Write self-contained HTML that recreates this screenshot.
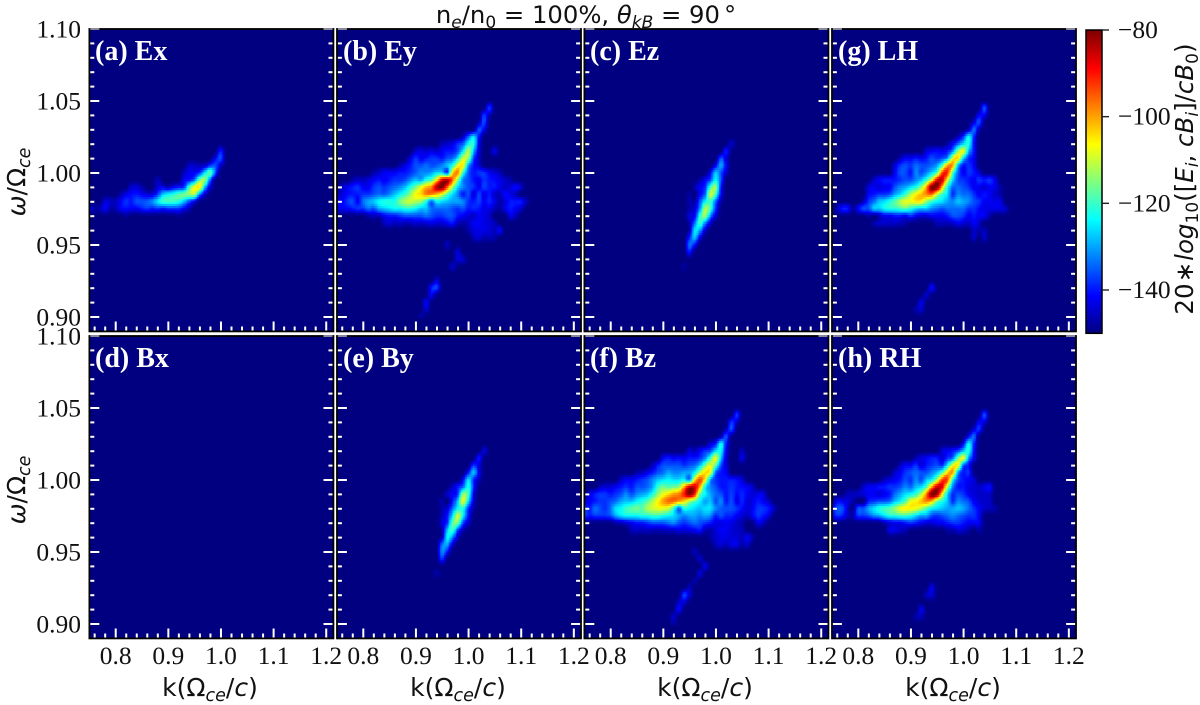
<!DOCTYPE html>
<html lang="en">
<head>
<meta charset="utf-8">
<title>Wave power spectra heatmaps</title>
<style>
html,body{margin:0;padding:0;background:#fff;width:1200px;height:705px;overflow:hidden}
svg{display:block}
.dj{font-family:"DejaVu Sans",sans-serif;font-size:25px;fill:#111}
.tm{font-family:"Liberation Serif",serif;font-size:25.5px;fill:#111}
.pl{font-family:"Liberation Serif",serif;font-size:28px;font-weight:bold;fill:#fff}
.it{font-style:italic}
</style>
</head>
<body>
<svg id="figure" xmlns="http://www.w3.org/2000/svg" width="1200" height="705" viewBox="0 0 1200 705">
  <g id="heat-layer"></g>
  <g id="axes-layer"></g>
  <g id="colorbar"></g>

  <text class="dj" x="586" y="23" text-anchor="middle" style="font-size:24.3px">n<tspan class="it" font-size="17" dy="5">e</tspan><tspan dy="-5">/n</tspan><tspan font-size="17" dy="5">0</tspan><tspan dy="-5"> = 100%, </tspan><tspan class="it">θ</tspan><tspan class="it" font-size="17" dy="5">kB</tspan><tspan dy="-5"> = 90</tspan><tspan dx="4">°</tspan></text>

  <text class="pl" x="95" y="60">(a) Ex</text>
  <text class="pl" x="343" y="60">(b) Ey</text>
  <text class="pl" x="590" y="60">(c) Ez</text>
  <text class="pl" x="838" y="60">(g) LH</text>
  <text class="pl" x="95" y="367">(d) Bx</text>
  <text class="pl" x="343" y="367">(e) By</text>
  <text class="pl" x="590" y="367">(f) Bz</text>
  <text class="pl" x="838" y="367">(h) RH</text>

  <text class="dj" transform="translate(25,182) rotate(-90)" text-anchor="middle"><tspan class="it">ω</tspan>/Ω<tspan class="it" font-size="17.5" dy="5">ce</tspan></text>
  <text class="dj" transform="translate(25,490) rotate(-90)" text-anchor="middle"><tspan class="it">ω</tspan>/Ω<tspan class="it" font-size="17.5" dy="5">ce</tspan></text>

  <text class="dj" x="210" y="696" text-anchor="middle">k(Ω<tspan class="it" font-size="17.5" dy="5">ce</tspan><tspan dy="-5">/</tspan><tspan class="it">c</tspan>)</text>
  <text class="dj" x="458" y="696" text-anchor="middle">k(Ω<tspan class="it" font-size="17.5" dy="5">ce</tspan><tspan dy="-5">/</tspan><tspan class="it">c</tspan>)</text>
  <text class="dj" x="705" y="696" text-anchor="middle">k(Ω<tspan class="it" font-size="17.5" dy="5">ce</tspan><tspan dy="-5">/</tspan><tspan class="it">c</tspan>)</text>
  <text class="dj" x="953" y="696" text-anchor="middle">k(Ω<tspan class="it" font-size="17.5" dy="5">ce</tspan><tspan dy="-5">/</tspan><tspan class="it">c</tspan>)</text>

  <text class="dj" transform="translate(1193,179) rotate(-90)" text-anchor="middle" style="font-size:24.5px">20<tspan dx="1">∗</tspan><tspan class="it" dx="1">log</tspan><tspan font-size="17" dy="5">10</tspan><tspan dy="-5">([</tspan><tspan class="it">E</tspan><tspan class="it" font-size="17" dy="5">i</tspan><tspan dy="-5">, </tspan><tspan class="it">cB</tspan><tspan class="it" font-size="17" dy="5">i</tspan><tspan dy="-5">]/</tspan><tspan class="it">cB</tspan><tspan font-size="17" dy="5">0</tspan><tspan dy="-5">)</tspan></text>
</svg>

<script>
// ---- Axis tick values and labels ----
const kMajorTicks = [0.8, 0.9, 1.0, 1.1, 1.2];
const kMajorLabels = ["0.8", "0.9", "1.0", "1.1", "1.2"];
const kMinorTicks = [0.76, 0.78, 0.82, 0.84, 0.86, 0.88, 0.92, 0.94, 0.96, 0.98, 1.02, 1.04, 1.06, 1.08, 1.12, 1.14, 1.16, 1.18];
const omegaMajorTicks = [0.90, 0.95, 1.00, 1.05, 1.10];
const omegaMajorLabels = ["0.90", "0.95", "1.00", "1.05", "1.10"];
const omegaMinorTicks = [0.91, 0.92, 0.93, 0.94, 0.96, 0.97, 0.98, 0.99, 1.01, 1.02, 1.03, 1.04, 1.06, 1.07, 1.08, 1.09];
const colorbarTicks = [-80, -100, -120, -140];
const colorbarLabels = ["\u221280", "\u2212100", "\u2212120", "\u2212140"];

// ---- Heatmap grid definition ----
// Cells are spaced 0.01 in k from 0.75 and 0.005 in omega downward from 1.05.
// Each row: first entry is the column index of its first cell, the rest are power in dB above the -150 floor.
const kFirst = 0.75, kStep = 0.01, omegaFirst = 1.05, omegaStep = -0.005, gridColumns = 38, gridRows = 31;
const colorMin = -150, colorMax = -80;

const powerEx = [
[],[],[],[],[],[],[],
[25,10],
[24,8,14],
[19,5,5,4,5,12,14,5],
[18,4,8,8,12,24,32,14],
[13,4,0,0,0,0,8,10,16,34,36,16],
[8,5,6,3,0,0,6,7,4,8,10,12,30,42,44,22,6],
[6,3,7,9,10,8,6,6,12,22,26,28,32,34,36,38,18,6],
[3,6,5,4,8,12,10,14,14,15,18,24,30,30,30,28,22,14,8],
[0,8,3,3,8,3,3,8,9,8,8,10,12,10,12,10,12,12,12,8,4],
[7,2,0,0,0,0,0,0,0,0,0,2]
];

const powerEy = [
[],
[29,12],
[28,12,4],
[27,3,14],
[27,14,8],
[24,5,15,24,10],
[20,4,5,7,12,15,27,28,8],
[15,5,7,5,7,5,8,10,10,14,25,38,22,6,0,0,7],
[14,6,12,8,10,12,12,10,14,16,25,40,36,14,5],
[12,3,7,10,14,14,16,14,15,18,22,28,42,44,20,10,6],
[7,3,5,8,8,8,10,10,12,15,18,18,20,24,24,14,45,52,30,15,10,12,12,8,6,4],
[3,3,5,4,6,8,10,8,10,12,12,14,18,22,20,28,32,45,62,66,54,36,18,14,10,8,12,10,9,7,5,3],
[1,5,8,10,12,8,8,12,14,12,14,16,18,22,28,34,42,48,52,66,70,55,38,24,18,14,12,8,13,10,10,7,5,6,9,5],
[0,4,6,9,10,10,12,12,14,16,15,18,22,26,30,36,44,46,52,52,48,42,32,24,18,10,14,6,13,7,10,5,4,9,7,4],
[0,10,8,12,14,8,16,20,22,26,28,28,28,34,38,40,38,36,28,16,26,24,22,20,20,18,12,10,13,8,11,7,3,6,10,10,10,4],
[0,8,8,8,10,12,12,16,14,20,22,24,26,26,28,28,26,22,22,16,16,16,16,14,12,14,10,11,10,7,7,4,2,7,10,8,5],
[6,3,4,4,8,10,10,12,14,14,14,14,16,14,12,12,14,14,10,8,6,5,8,7,5,0,0,0,7,4],
[9,4,6,4,5,4,4,6,5,6,7,6,6,8,10,4,3,4,8,8,7,6,4],
[25,3,6,7,7,6,4,8],
[26,4,6,3,4,3],
[21,4],
[23,6],
[23,6,5],
[22,5],
[],
[19,6],
[18,10,13],
[18,8],
[17,8],
[17,5],
[16,3]
];

const powerEz = [
[],[],[],[],[],[],
[28,5],
[27,10],
[26,14,6],
[25,8,20,8],
[24,8,22,14,5],
[22,3,8,14,26,14],
[21,3,8,12,30,36,10],
[20,2,0,8,16,40,30,8],
[20,3,3,14,26,30,16,3],
[20,3,6,18,38,30,12],
[20,6,8,28,36,18,6],
[20,3,16,30,18,6],
[20,3,24,20,6],
[20,10,22,8],
[20,16,10],
[20,10],
[],
[19,2]
];

const powerLH = [
[],
[29,14],
[28,8,8],
[27,6,14],
[26,4,16,4],
[24,4,12,26,12],
[22,3,8,16,24,28,10],
[18,6,8,9,8,10,18,36,42,22,10],
[13,4,8,8,10,8,10,14,12,14,20,42,46,24,12,8],
[12,6,12,14,12,16,14,14,16,20,32,50,50,22,10,12,8],
[12,8,14,14,10,18,14,18,24,32,56,58,32,16,8,12,10,6],
[8,5,8,10,10,10,12,14,14,18,22,30,42,62,64,42,24,14,12,10,8,12,10,12,7],
[7,6,8,6,8,8,14,18,20,24,28,36,50,70,70,48,28,16,16,14,12,8,8,6,8,7,3],
[7,8,10,12,12,14,20,24,30,38,44,48,52,54,40,30,24,12,18,16,16,12,8,10,8,5,3],
[6,4,12,16,22,24,28,32,38,42,42,45,44,36,30,26,24,20,18,22,20,18,14,12,8,8,7,7],
[1,4,10,10,2,8,14,14,22,22,26,28,28,30,32,28,24,22,22,18,16,14,16,16,16,16,12,12,9,7,7,7,7,5],
[7,3,0,4,8,8,10,10,8,12,8,6,6,8,8,8,10,14,14,12,8,10,8,8,3],
[8,3,5,5,5,5,4,3,0,0,0,0,0,4,4,4,5,8,6,5,8,5],
[27,5,3,4],
[27,5,0,5],
[],[],[],[],[],[],
[19,9],
[18,5],
[17,7],
[16,3,5]
];

const powerBx = [];

const powerBy = [
[],[],[],[],[],[],
[28,6],
[27,10],
[26,12,6],
[25,10,22,8],
[24,8,24,12,4],
[22,5,10,16,28,12],
[21,5,8,12,36,30,8],
[20,3,0,10,22,42,24,6],
[20,3,6,16,26,28,12,3],
[20,4,10,24,40,26,10],
[20,6,12,32,34,14,5],
[20,3,22,30,14,4],
[20,4,26,18,5],
[20,16,20,6],
[20,18,10],
[20,12],
[],
[19,3]
];

const powerBz = [
[],
[29,12],
[28,12,5],
[27,4,14],
[26,4,14],
[24,6,10,26,10],
[20,6,4,8,12,14,24,26,8,0,0,4],
[15,8,10,8,9,8,10,10,12,18,30,42,22,6,0,0,7],
[13,4,10,14,14,14,14,12,14,16,22,34,42,32,14,6],
[10,3,4,7,10,14,16,20,18,18,20,20,26,38,46,42,16,10,8],
[7,5,8,8,10,12,14,18,22,24,26,24,24,26,18,44,56,44,20,12,10,10,10,9,6],
[3,4,6,6,8,10,12,10,14,14,16,20,30,34,32,34,36,50,64,64,50,26,18,14,10,10,12,10,9,8,5],
[1,6,10,12,12,10,12,14,18,14,18,20,22,28,36,42,46,50,52,60,70,60,34,26,20,16,14,10,13,9,11,8,6,7,7],
[0,6,8,10,12,12,14,16,20,22,22,26,28,32,38,44,50,54,54,50,46,38,32,26,20,22,14,18,10,14,7,11,6,7,10,8,5],
[0,14,10,16,14,12,16,24,26,30,32,34,32,38,40,42,42,40,30,16,28,26,24,22,24,24,18,15,14,14,12,9,6,8,12,12,10,5],
[0,14,10,12,12,12,14,20,24,26,26,26,28,28,30,30,28,26,24,20,18,20,20,18,20,18,11,14,11,11,8,6,4,8,12,10,7],
[6,3,4,6,8,10,10,12,14,14,14,16,18,14,12,14,16,14,12,10,7,7,8,7,5,3,0,0,7,5],
[9,4,5,4,5,4,4,4,5,5,7,6,7,8,10,4,3,6,8,8,6,5,4],
[24,3,5,7,7,6,6,4,8,3],
[25,4,6,4,7,7,3,5],
[21,4],
[22,5],
[23,7],
[22,6],
[21,3],
[20,4],
[19,13,6],
[18,5,6],
[18,9],
[17,5],
[17,3]
];

const powerRH = [
[],
[29,14],
[28,8,6],
[27,6,12],
[26,8,16],
[25,8,26,12],
[21,6,8,10,14,22,28,10],
[16,4,6,8,10,10,6,12,16,34,42,20,8],
[13,4,8,8,12,6,10,12,14,12,26,42,44,16,10],
[12,5,8,12,14,16,14,14,18,22,32,46,50,20,10,12],
[10,4,6,8,10,14,12,18,14,22,26,38,56,56,28,14,10,8,6],
[6,5,8,8,10,10,12,12,14,18,16,22,24,32,50,64,62,38,18,10,10,7,6,5,7,9],
[3,4,4,5,6,8,8,6,8,10,16,20,24,26,30,38,52,70,68,44,24,12,14,12,8,6,5,5,5],
[1,8,8,6,3,0,0,10,12,14,14,16,22,26,32,42,44,48,52,48,34,28,22,12,18,16,14,8,6,5,5],
[0,8,14,14,6,0,14,14,20,24,28,30,32,36,42,44,44,42,38,32,26,24,22,20,20,22,20,16,12,8,5,4,3],
[0,6,12,10,5,3,12,12,14,18,20,24,28,28,30,30,28,24,20,20,14,12,14,16,18,16,14,12,12,8],
[10,4,6,8,8,10,12,10,8,6,6,8,8,10,12,12,10,8,8,8],
[11,7,7,5,4,0,0,0,0,0,0,0,3,3,6,5,3,0,3],
[],[],[],[],[],[],[],
[19,7],
[18,4,6],
[],
[17,7],
[16,3,4]
];

const panelPower = [
  [powerEx, powerEy, powerEz, powerLH],
  [powerBx, powerBy, powerBz, powerRH]
];
const panelKeys = [
  ["ex", "ey", "ez", "lh"],
  ["bx", "by", "bz", "rh"]
];

// ---- Layout and scales ----
const NS = "http://www.w3.org/2000/svg";
const columnLeft = [89.4, 337, 584.4, 832];
const rowTop = [29, 336];
const panelW = 244, panelH = 302.4;
const kMin = 0.75, kPx = 526.3, omegaMax = 1.10, omegaPx = 1440;
const SUB = 4;

function xScale(k, col) { return columnLeft[col] + (k - kMin) * kPx; }
function yScale(w, row) { return rowTop[row] + (omegaMax - w) * omegaPx; }

function clamp01(v) { return v < 0 ? 0 : v > 1 ? 1 : v; }
function jet(n) {
  const r = clamp01(1.5 - Math.abs(4 * n - 3));
  const g = clamp01(1.5 - Math.abs(4 * n - 2));
  const b = clamp01(1.5 - Math.abs(4 * n - 1));
  return "rgb(" + Math.round(r * 255) + "," + Math.round(g * 255) + "," + Math.round(b * 255) + ")";
}
function colorOf(db) { return jet(clamp01((db - colorMin) / (colorMax - colorMin))); }

// Expand sparse rows into a dense dB-above-floor matrix
function expand(rows) {
  const out = [];
  for (let j = 0; j < gridRows; j++) {
    const line = new Array(gridColumns).fill(0);
    const src = rows[j];
    if (src && src.length) {
      for (let i = 1; i < src.length; i++) line[src[0] + i - 1] = src[i];
    }
    out.push(line);
  }
  return out;
}
function cat(p0, p1, p2, p3, t) {
  return p1 + 0.5 * t * (p2 - p0 + t * (2 * p0 - 5 * p1 + 4 * p2 - p3 + t * (3 * (p1 - p2) + p3 - p0)));
}
function sample(m, u, v) {
  const i = Math.floor(u), j = Math.floor(v), tu = u - i, tv = v - j;
  const col = [];
  for (let jj = j - 1; jj <= j + 2; jj++) {
    const line = m[Math.max(0, Math.min(gridRows - 1, jj))];
    const a = line[Math.max(0, i - 1)], b = line[i], c = line[Math.min(gridColumns - 1, i + 1)], d = line[Math.min(gridColumns - 1, i + 2)];
    col.push(cat(a, b, c, d, tu));
  }
  return cat(col[0], col[1], col[2], col[3], tv);
}

// ---- Heatmaps ----
const heatLayer = document.getElementById("heat-layer");
const axesLayer = document.getElementById("axes-layer");
const colorbarGroup = document.getElementById("colorbar");

function addRect(parent, x, y, w, h, fill) {
  const el = document.createElementNS(NS, "rect");
  el.setAttribute("x", x.toFixed(2));
  el.setAttribute("y", y.toFixed(2));
  el.setAttribute("width", w.toFixed(2));
  el.setAttribute("height", h.toFixed(2));
  el.setAttribute("fill", fill);
  return parent.appendChild(el);
}
function addText(parent, x, y, str, anchor) {
  const el = document.createElementNS(NS, "text");
  el.setAttribute("x", x);
  el.setAttribute("y", y);
  el.setAttribute("class", "tm");
  el.setAttribute("text-anchor", anchor);
  el.textContent = str;
  return parent.appendChild(el);
}

for (let r = 0; r < 2; r++) {
  for (let c = 0; c < 4; c++) {
    const key = panelKeys[r][c];
    const g = document.createElementNS(NS, "g");
    
    
    g.setAttribute("shape-rendering", "crispEdges");
    heatLayer.appendChild(g);

    const bg = addRect(g, columnLeft[c], rowTop[r], panelW, panelH, colorOf(colorMin));
    
    

    const m = expand(panelPower[r][c]);
    const cw = kStep / SUB * kPx + 0.6;
    const ch = Math.abs(omegaStep) / SUB * omegaPx + 0.6;
    for (let fj = 0; fj <= (gridRows - 1) * SUB; fj++) {
      for (let fi = 0; fi <= (gridColumns - 1) * SUB; fi++) {
        const u = fi / SUB, v = fj / SUB;
        const val = sample(m, Math.min(u, gridColumns - 1.001), Math.min(v, gridRows - 1.001));
        if (val < 0.8) continue;
        const k = kFirst + u * kStep, w = omegaFirst + v * omegaStep;
        const cell = addRect(g, Math.max(columnLeft[c], xScale(k, c) - cw / 2), yScale(w, r) - ch / 2, cw, ch, colorOf(colorMin + val));
        
        
      }
    }

    // Frame
    const frame = document.createElementNS(NS, "rect");
    frame.setAttribute("x", columnLeft[c]);
    frame.setAttribute("y", rowTop[r]);
    frame.setAttribute("width", panelW);
    frame.setAttribute("height", panelH);
    frame.setAttribute("fill", "none");
    frame.setAttribute("stroke", "#000");
    frame.setAttribute("stroke-width", "1.8");
    
    
    axesLayer.appendChild(frame);

    // White inward ticks
    const ticks = document.createElementNS(NS, "g");
    ticks.setAttribute("fill", "#fff");
    
    
    axesLayer.appendChild(ticks);
    const left = columnLeft[c], right = left + panelW, bottom = rowTop[r] + panelH;
    omegaMajorTicks.forEach(function (w) {
      const y = yScale(w, r);
      const color = w > 1.09 ? "#8a8a9a" : "#fff";
      addRect(ticks, left + 0.9, y - 1, 9, 2, color);
      addRect(ticks, right - 9.9, y - 1, 9, 2, color);
    });
    omegaMinorTicks.forEach(function (w) {
      const y = yScale(w, r);
      addRect(ticks, left + 0.9, y - 1, 4, 2, "#fff");
      addRect(ticks, right - 4.9, y - 1, 4, 2, "#fff");
    });
    kMajorTicks.forEach(function (k) {
      addRect(ticks, xScale(k, c) - 1, bottom - 9.9, 2, 9, "#fff");
    });
    kMinorTicks.forEach(function (k) {
      if (xScale(k, c) < right - 2) addRect(ticks, xScale(k, c) - 1, bottom - 4.9, 2, 4, "#fff");
    });

    // Tick labels
    if (c === 0) {
      omegaMajorTicks.forEach(function (w, i) {
        const t = addText(axesLayer, 81, yScale(w, r) + 8.5, omegaMajorLabels[i], "end");
        
        
      });
    }
    if (r === 1) {
      kMajorTicks.forEach(function (k, i) {
        const t = addText(axesLayer, xScale(k, c), 664, kMajorLabels[i], "middle");
        
        
      });
    }
  }
}

// ---- Colorbar ----
const cbLeft = 1086, cbRight = 1102, cbTop = 30, cbPx = 4.333;
function cbScale(db) { return cbTop + (colorMax - db) * cbPx; }
const cbRamp = document.createElementNS(NS, "g");
cbRamp.setAttribute("shape-rendering", "crispEdges");


colorbarGroup.appendChild(cbRamp);
for (let db = colorMin; db < colorMax; db += 0.25) {
  addRect(cbRamp, cbLeft, cbScale(db + 0.25), cbRight - cbLeft, 0.25 * cbPx + 0.5, colorOf(db + 0.125));
}
const cbFrame = document.createElementNS(NS, "rect");
cbFrame.setAttribute("x", cbLeft);
cbFrame.setAttribute("y", cbTop);
cbFrame.setAttribute("width", cbRight - cbLeft);
cbFrame.setAttribute("height", (colorMax - colorMin) * cbPx);
cbFrame.setAttribute("fill", "none");
cbFrame.setAttribute("stroke", "#000");
cbFrame.setAttribute("stroke-width", "1.5");


colorbarGroup.appendChild(cbFrame);
colorbarTicks.forEach(function (db, i) {
  const tick = addRect(colorbarGroup, cbRight, cbScale(db) - 0.7, 7, 1.4, "#222");
  
  
  const label = addText(colorbarGroup, 1118, cbScale(db) + 8, colorbarLabels[i], "start");
  
  
});
</script>
</body>
</html>
